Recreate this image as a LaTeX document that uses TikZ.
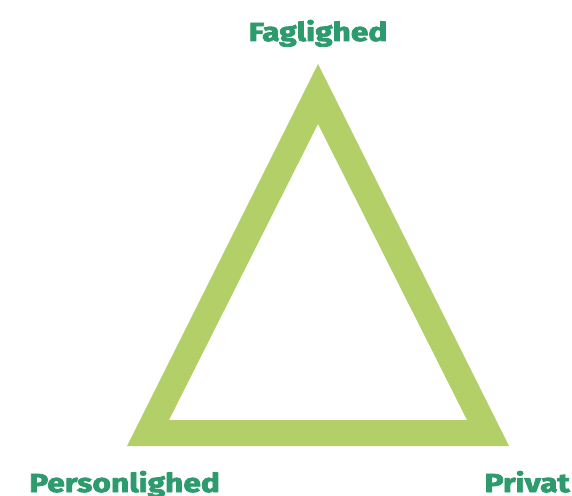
\documentclass[tikz,border=0pt]{standalone}
\usepackage{fontspec}
\usetikzlibrary{positioning}
\newfontfamily\labelfont[BoldFeatures={FakeBold=3,FakeStretch=1.22}]{Fira Sans}
\definecolor{leafgreen}{HTML}{B3CF68}
\definecolor{textgreen}{HTML}{2E9B6F}
\tikzstyle{corner}=[font=\labelfont\bfseries\fontsize{26}{26}\selectfont,text=textgreen,inner sep=0pt]
\tikzstyle{band} = [fill=leafgreen,even odd rule]

\begin{document}
\begin{tikzpicture}[x=1pt,y=-1pt]
    \useasboundingbox (0,0) rectangle (572,495);

    % outer and inner corners of the band
    \coordinate (apex) at (318,64);
    \coordinate (BL) at (127,446);
    \coordinate (BR) at (509,446);
    \coordinate (iapex) at (318,124);
    \coordinate (iBL) at (169,420);
    \coordinate (iBR) at (467,420);

    \path[band] (apex) -- (BL) -- (BR) -- cycle (iapex) -- (iBL) -- (iBR) -- cycle;

    \node[corner,anchor=base] (fag) at (318,41) {Faglighed};
    \node[corner,anchor=base west] (pers) at (29,492) {Personlighed};
    \node[corner,anchor=base east] (priv) at (570,492) {Privat};

\end{tikzpicture}
\end{document}
